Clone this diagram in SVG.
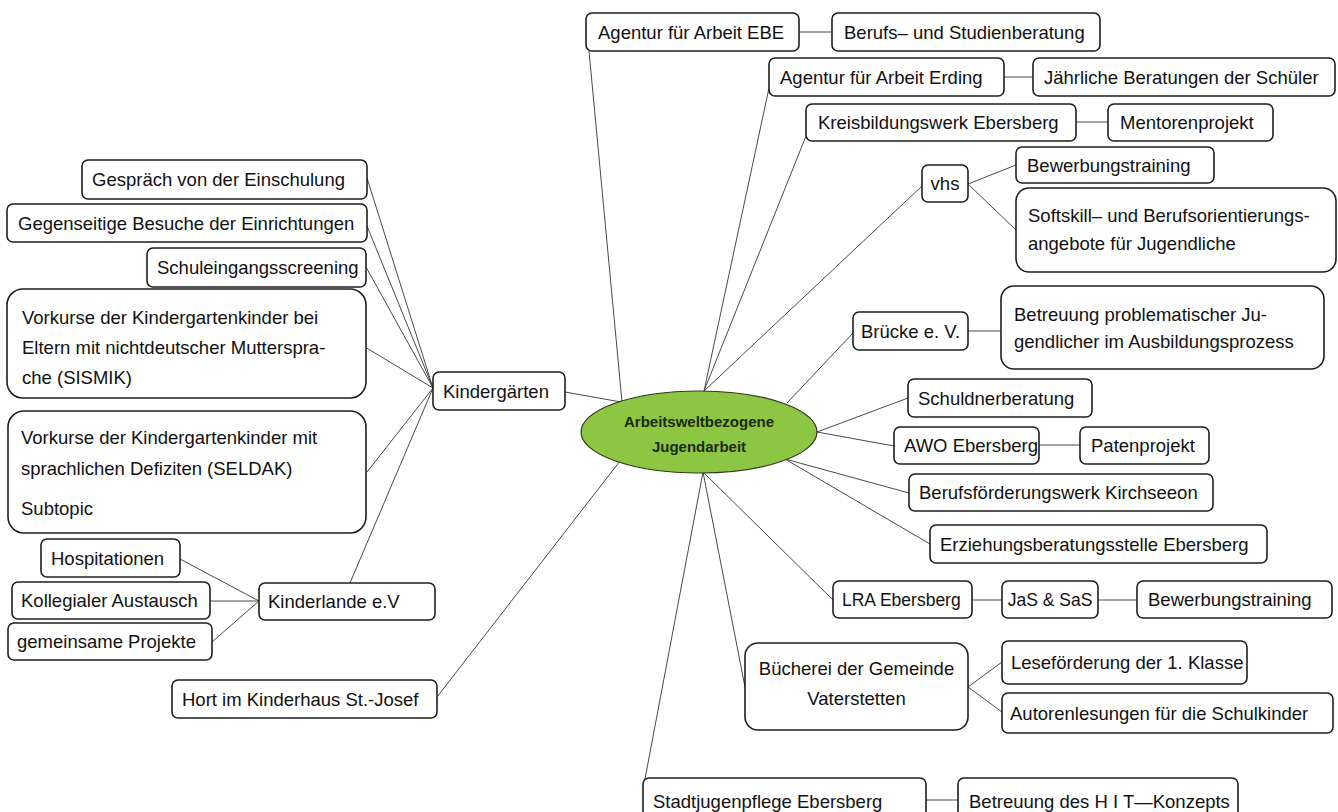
<svg xmlns="http://www.w3.org/2000/svg" width="1338" height="812" viewBox="0 0 1338 812">
<style>
.b{fill:#fff;stroke:#1e1e1e;stroke-width:1.6}
.t{font-family:"Liberation Sans",Arial,sans-serif;font-size:18.5px;fill:#111}
.tm{text-anchor:middle}
.sm{font-size:17.5px}
.c{stroke:#4a4a4a;stroke-width:1;fill:none}
.ct{font-family:"Liberation Sans",Arial,sans-serif;font-size:15px;font-weight:bold;fill:#1b2a0e;text-anchor:middle}
</style>
<rect width="1338" height="812" fill="#fff"/>
<g id="connectors">
<line class="c" x1="589" y1="51" x2="622" y2="402"/>
<line class="c" x1="769" y1="88" x2="704" y2="391"/>
<line class="c" x1="806" y1="136" x2="704" y2="391"/>
<line class="c" x1="922" y1="186" x2="704" y2="391"/>
<line class="c" x1="853" y1="333" x2="787" y2="403"/>
<line class="c" x1="908" y1="398" x2="817" y2="432"/>
<line class="c" x1="894" y1="446" x2="817" y2="432"/>
<line class="c" x1="909" y1="493" x2="785" y2="459"/>
<line class="c" x1="930" y1="544" x2="785" y2="459"/>
<line class="c" x1="833" y1="600" x2="703" y2="472"/>
<line class="c" x1="745" y1="687" x2="703" y2="472"/>
<line class="c" x1="645" y1="779" x2="703" y2="472"/>
<line class="c" x1="437" y1="697" x2="620" y2="461"/>
<line class="c" x1="565" y1="392" x2="621" y2="402"/>
<line class="c" x1="799" y1="32" x2="832" y2="32"/>
<line class="c" x1="1004" y1="77" x2="1033" y2="77"/>
<line class="c" x1="1076" y1="122" x2="1108" y2="122"/>
<line class="c" x1="968" y1="184" x2="1016" y2="165"/>
<line class="c" x1="968" y1="184" x2="1016" y2="230"/>
<line class="c" x1="968" y1="331" x2="1001" y2="331"/>
<line class="c" x1="1039" y1="445" x2="1080" y2="445"/>
<line class="c" x1="972" y1="600" x2="1002" y2="600"/>
<line class="c" x1="1098" y1="600" x2="1137" y2="600"/>
<line class="c" x1="968" y1="687" x2="1002" y2="662"/>
<line class="c" x1="968" y1="687" x2="1002" y2="712"/>
<line class="c" x1="926" y1="800" x2="958" y2="800"/>
<line class="c" x1="367" y1="178" x2="433" y2="388"/>
<line class="c" x1="367" y1="226" x2="433" y2="388"/>
<line class="c" x1="366" y1="267" x2="433" y2="388"/>
<line class="c" x1="365" y1="347" x2="433" y2="388"/>
<line class="c" x1="367" y1="472" x2="433" y2="388"/>
<line class="c" x1="350" y1="583" x2="433" y2="388"/>
<line class="c" x1="180" y1="559" x2="259" y2="601"/>
<line class="c" x1="210" y1="601" x2="259" y2="601"/>
<line class="c" x1="212" y1="642" x2="259" y2="601"/>
</g>
<g id="center">
<ellipse cx="699" cy="432" rx="118" ry="41" fill="#8dc642" stroke="#2f3a22" stroke-width="1.2"/>
<text class="ct" x="699" y="427">Arbeitsweltbezogene</text>
<text class="ct" x="699" y="452">Jugendarbeit</text>
</g>
<g id="n-ebe"><rect class="b" x="586" y="13" width="213" height="38" rx="6"/><text class="t" x="598" y="38.5">Agentur für Arbeit EBE</text></g>
<g id="n-berufs"><rect class="b" x="832" y="13" width="268" height="38" rx="6"/><text class="t" x="844" y="38.5">Berufs– und Studienberatung</text></g>
<g id="n-erding"><rect class="b" x="769" y="58" width="235" height="38" rx="6"/><text class="t" x="780" y="83.5">Agentur für Arbeit Erding</text></g>
<g id="n-jaehrlich"><rect class="b" x="1033" y="58" width="302" height="38" rx="6"/><text class="t" x="1044" y="83.5">Jährliche Beratungen der Schüler</text></g>
<g id="n-kreis"><rect class="b" x="806" y="104" width="270" height="37" rx="6"/><text class="t" x="818" y="129">Kreisbildungswerk Ebersberg</text></g>
<g id="n-mentoren"><rect class="b" x="1108" y="104" width="165" height="37" rx="6"/><text class="t" x="1120" y="129">Mentorenprojekt</text></g>
<g id="n-vhs"><rect class="b" x="922" y="165" width="46" height="37" rx="6"/><text class="t tm" x="945" y="190">vhs</text></g>
<g id="n-bewerb1"><rect class="b" x="1016" y="147" width="198" height="36" rx="6"/><text class="t" x="1027" y="171.5">Bewerbungstraining</text></g>
<g id="n-softskill"><rect class="b" x="1016" y="188" width="320" height="84" rx="13"/><text class="t" x="1028" y="221.5">Softskill– und Berufsorientierungs-</text><text class="t" x="1028" y="249.5">angebote für Jugendliche</text></g>
<g id="n-bruecke"><rect class="b" x="853" y="312" width="115" height="38" rx="6"/><text class="t tm" x="910.5" y="337.5">Brücke e. V.</text></g>
<g id="n-betreuung"><rect class="b" x="1001" y="286" width="323" height="83" rx="13"/><text class="t" x="1014" y="320.5">Betreuung problematischer Ju-</text><text class="t" x="1014" y="347.5">gendlicher im Ausbildungsprozess</text></g>
<g id="n-schuldner"><rect class="b" x="908" y="379" width="184" height="38" rx="6"/><text class="t" x="918" y="404.5">Schuldnerberatung</text></g>
<g id="n-awo"><rect class="b" x="894" y="427" width="145" height="37" rx="6"/><text class="t" x="904" y="452">AWO Ebersberg</text></g>
<g id="n-paten"><rect class="b" x="1080" y="427" width="129" height="37" rx="6"/><text class="t" x="1091" y="452">Patenprojekt</text></g>
<g id="n-berufsf"><rect class="b" x="909" y="474" width="304" height="37" rx="6"/><text class="t" x="919" y="499">Berufsförderungswerk Kirchseeon</text></g>
<g id="n-erziehung"><rect class="b" x="930" y="525" width="337" height="38" rx="6"/><text class="t" x="940" y="550.5">Erziehungsberatungsstelle Ebersberg</text></g>
<g id="n-lra"><rect class="b" x="833" y="581" width="139" height="37" rx="6"/><text class="t sm" x="842" y="606">LRA Ebersberg</text></g>
<g id="n-jas"><rect class="b" x="1002" y="581" width="96" height="37" rx="6"/><text class="t tm sm" x="1050" y="606">JaS &amp; SaS</text></g>
<g id="n-bewerb2"><rect class="b" x="1137" y="581" width="195" height="37" rx="6"/><text class="t" x="1148" y="606">Bewerbungstraining</text></g>
<g id="n-buecherei"><rect class="b" x="745" y="643" width="223" height="87" rx="13"/><text class="t tm" x="856.5" y="674.5">Bücherei der Gemeinde</text><text class="t tm" x="856.5" y="704.5">Vaterstetten</text></g>
<g id="n-lese"><rect class="b" x="1002" y="641" width="245" height="43" rx="6"/><text class="t" x="1011" y="669">Leseförderung der 1. Klasse</text></g>
<g id="n-autoren"><rect class="b" x="1002" y="693" width="331" height="40" rx="6"/><text class="t" x="1010" y="719.5">Autorenlesungen für die Schulkinder</text></g>
<g id="n-stadt"><rect class="b" x="643" y="778" width="283" height="46" rx="6"/><text class="t" x="653" y="808">Stadtjugenpflege Ebersberg</text></g>
<g id="n-hit"><rect class="b" x="958" y="778" width="280" height="46" rx="6"/><text class="t" x="969" y="808">Betreuung des H I T—Konzepts</text></g>
<g id="n-kindergaerten"><rect class="b" x="433" y="372" width="132" height="38" rx="6"/><text class="t" x="443" y="397.5">Kindergärten</text></g>
<g id="n-gespraech"><rect class="b" x="82" y="160" width="285" height="39" rx="6"/><text class="t" x="92" y="186">Gespräch von der Einschulung</text></g>
<g id="n-gegenseitig"><rect class="b" x="7" y="204" width="360" height="38" rx="6"/><text class="t" x="18" y="229.5">Gegenseitige Besuche der Einrichtungen</text></g>
<g id="n-schuleingang"><rect class="b" x="147" y="248" width="219" height="39" rx="6"/><text class="t" x="157" y="274">Schuleingangsscreening</text></g>
<g id="n-sismik"><rect class="b" x="7" y="289" width="359" height="109" rx="16"/><text class="t" x="22" y="323.5">Vorkurse der Kindergartenkinder bei</text><text class="t" x="22" y="353.5">Eltern mit nichtdeutscher Mutterspra-</text><text class="t" x="22" y="383.5">che (SISMIK)</text></g>
<g id="n-seldak"><rect class="b" x="8" y="411" width="358" height="122" rx="16"/><text class="t" x="21" y="443.5">Vorkurse der Kindergartenkinder mit</text><text class="t" x="21" y="474.5">sprachlichen Defiziten (SELDAK)</text><text class="t" x="21" y="514.5">Subtopic</text></g>
<g id="n-hospitation"><rect class="b" x="41" y="539" width="139" height="38" rx="6"/><text class="t" x="51" y="564.5">Hospitationen</text></g>
<g id="n-kollegial"><rect class="b" x="12" y="582" width="198" height="37" rx="6"/><text class="t" x="21" y="607">Kollegialer Austausch</text></g>
<g id="n-gemeinsam"><rect class="b" x="8" y="623" width="204" height="37" rx="6"/><text class="t" x="17" y="648">gemeinsame Projekte</text></g>
<g id="n-kinderlande"><rect class="b" x="259" y="583" width="176" height="37" rx="6"/><text class="t" x="268" y="608">Kinderlande e.V</text></g>
<g id="n-hort"><rect class="b" x="172" y="680" width="265" height="38" rx="6"/><text class="t" x="182" y="705.5">Hort im Kinderhaus St.-Josef</text></g>
</svg>
